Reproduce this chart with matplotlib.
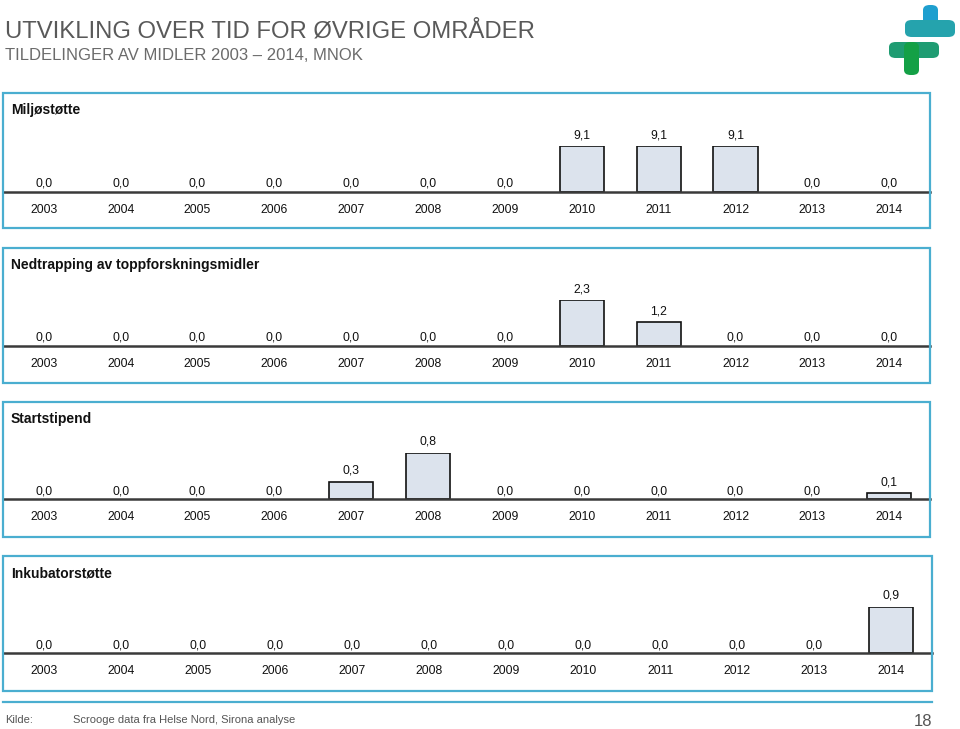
import matplotlib
matplotlib.use("Agg")
import matplotlib.pyplot as plt
from matplotlib.patches import Rectangle, FancyBboxPatch

plt.rcParams["font.family"] = ["Liberation Sans", "DejaVu Sans"]

W, H = 960, 729

years = ["2003", "2004", "2005", "2006", "2007", "2008",
         "2009", "2010", "2011", "2012", "2013", "2014"]

titles = ["Miljøstøtte", "Nedtrapping av toppforskningsmidler",
          "Startstipend", "Inkubatorstøtte"]
miljo = [0.0, 0.0, 0.0, 0.0, 0.0, 0.0, 0.0, 9.1, 9.1, 9.1, 0.0, 0.0]
nedtrapping = [0.0, 0.0, 0.0, 0.0, 0.0, 0.0, 0.0, 2.3, 1.2, 0.0, 0.0, 0.0]
startstipend = [0.0, 0.0, 0.0, 0.0, 0.3, 0.8, 0.0, 0.0, 0.0, 0.0, 0.0, 0.1]
inkubator = [0.0, 0.0, 0.0, 0.0, 0.0, 0.0, 0.0, 0.0, 0.0, 0.0, 0.0, 0.9]
series = [miljo, nedtrapping, startstipend, inkubator]

# panel boxes in pixels: left, top, right, bottom, baseline y
panels = [(3, 93, 930, 228, 192),
          (3, 248, 930, 383, 346),
          (3, 402, 930, 537, 499),
          (3, 556, 932, 691, 653)]

border = "#4aaed0"
bar_h = 46

fig = plt.figure(figsize=(W / 100, H / 100), dpi=100)


def fx(x):
    return x / W


def fy(y):
    return 1 - y / H


# header
fig.text(fx(5), fy(31), "UTVIKLING OVER TID FOR ØVRIGE OMRÅDER",
         fontsize=17.2, color="#595959", va="center", ha="left")
fig.text(fx(5), fy(56), "TILDELINGER AV MIDLER 2003 \u2013 2014, MNOK",
         fontsize=12, color="#6b6b6b", va="center", ha="left")

# logo
logo = [(923, 5, 15, 32, "#1e9fcf"), (905, 20, 50, 17, "#25a3ad"),
        (889, 42, 50, 16, "#1f9c72"), (904, 42, 15, 33, "#14a046")]
for x, y, w, h, c in logo:
    fig.patches.append(FancyBboxPatch((fx(x), fy(y + h)), w / W, h / H,
                                      boxstyle="round,pad=0,rounding_size=0.007",
                                      transform=fig.transFigure, color=c,
                                      linewidth=0))

for (l, t, r, b, base), name, vals in zip(panels, titles, series):
    fig.patches.append(Rectangle((fx(l), fy(b)), (r - l) / W, (b - t) / H,
                                 transform=fig.transFigure, fill=False,
                                 edgecolor=border, linewidth=1.6))
    fig.text(fx(l + 8), fy(t + 17), name, fontsize=10, fontweight="bold",
             color="#111111", va="center", ha="left")

    ax = fig.add_axes([fx(l), fy(base), (r - l) / W, bar_h / H])
    ax.set_axis_off()
    vmax = max(vals)
    ax.set_ylim(0, vmax)
    ax.set_xlim(-0.53, 11.53)
    xs = [i for i, v in enumerate(vals) if v > 0]
    ax.bar(xs, [vals[i] for i in xs], width=0.575, color="#dce3ed",
           edgecolor="#111111", linewidth=1.2, zorder=2)
    ax.axhline(0, color="#3a3a3a", linewidth=1.8, zorder=3, clip_on=False)
    for i, v in enumerate(vals):
        lab = f"{v:.1f}".replace(".", ",")
        off = 8 if v == 0 else 11
        ax.annotate(lab, (i, v), xytext=(0, off), textcoords="offset pixels",
                    ha="center", va="center", fontsize=8.8, color="#111111",
                    annotation_clip=False)
        ax.annotate(years[i], (i, 0), xytext=(0, -18),
                    textcoords="offset pixels", ha="center", va="center",
                    fontsize=8.8, color="#111111", annotation_clip=False)

# footer
fig.add_artist(plt.Line2D([fx(3), fx(932)], [fy(702), fy(702)],
                          transform=fig.transFigure, color=border,
                          linewidth=1.6))
fig.text(fx(5), fy(720), "Kilde:", fontsize=8, color="#555555",
         va="center", ha="left")
fig.text(fx(73), fy(720), "Scrooge data fra Helse Nord, Sirona analyse",
         fontsize=8, color="#555555", va="center", ha="left")
fig.text(fx(932), fy(722), "18", fontsize=12, color="#555555",
         va="center", ha="right")

fig.savefig("out.png", dpi=100)
